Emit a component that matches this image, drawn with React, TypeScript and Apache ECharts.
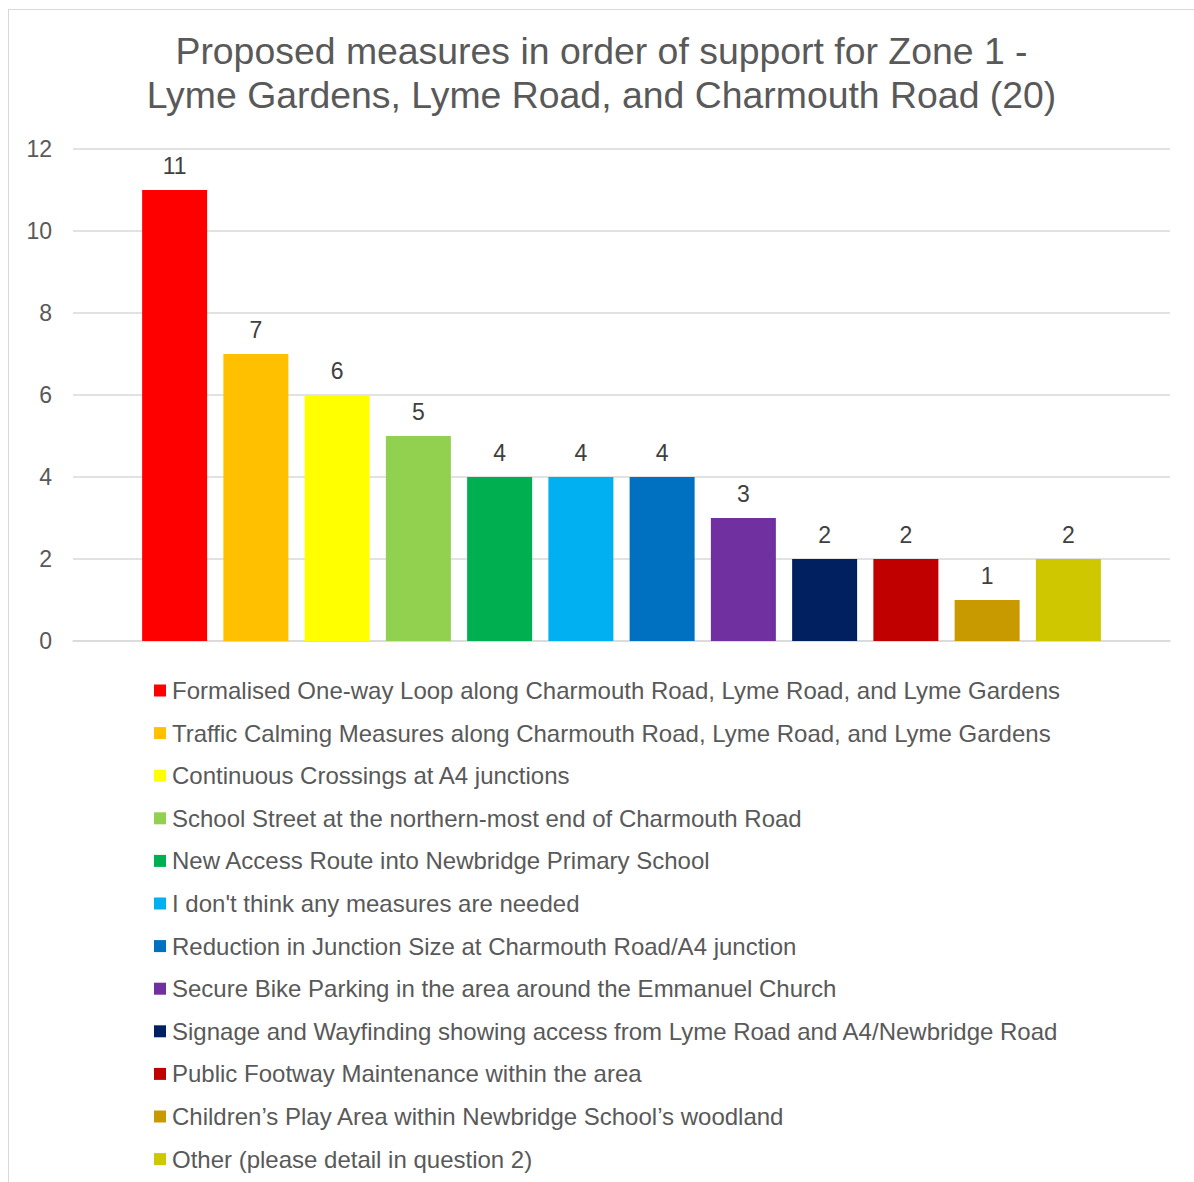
import React, { useEffect, useRef } from "react";
import * as echarts from "echarts";

const titleLines = [
  "Proposed measures in order of support for Zone 1 -",
  "Lyme Gardens, Lyme Road, and Charmouth Road (20)",
];

const measures = [
  "Formalised One-way Loop along Charmouth Road, Lyme Road, and Lyme Gardens",
  "Traffic Calming Measures along Charmouth Road, Lyme Road, and Lyme Gardens",
  "Continuous Crossings at A4 junctions",
  "School Street at the northern-most end of Charmouth Road",
  "New Access Route into Newbridge Primary School",
  "I don't think any measures are needed",
  "Reduction in Junction Size at Charmouth Road/A4 junction",
  "Secure Bike Parking in the area around the Emmanuel Church",
  "Signage and Wayfinding showing access from Lyme Road and A4/Newbridge Road",
  "Public Footway Maintenance within the area",
  "Children\u2019s Play Area within Newbridge School\u2019s woodland",
  "Other (please detail in question 2)",
];

const votes = [11, 7, 6, 5, 4, 4, 4, 3, 2, 2, 1, 2];

const colors = [
  "#FF0000",
  "#FFC000",
  "#FFFF00",
  "#92D050",
  "#00B050",
  "#00B0F0",
  "#0070C0",
  "#7030A0",
  "#002060",
  "#C00000",
  "#C99900",
  "#CFC700",
];

const yTicks = { min: 0, max: 12, interval: 2 };

const FONT = "'Liberation Sans', Arial, sans-serif";

export default function App() {
  const ref = useRef<HTMLDivElement>(null);

  useEffect(() => {
    document.body.style.overflow = "hidden";
    const chart = echarts.init(ref.current!, undefined, { renderer: "svg" });
    chart.setOption({
      animation: false,
      textStyle: { fontFamily: FONT },
      title: {
        text: titleLines.join("\n"),
        left: "center",
        top: 14,
        textStyle: {
          fontFamily: FONT,
          fontSize: 37.4,
          fontWeight: "normal",
          color: "#595959",
          lineHeight: 44,
        },
      },
      legend: {
        orient: "vertical",
        left: 140,
        top: 662,
        height: 560,
        itemWidth: 12,
        itemHeight: 12,
        itemGap: 15.6,
        icon: "rect",
        textStyle: {
          fontFamily: FONT,
          fontSize: 24,
          color: "#595959",
          lineHeight: 27,
          padding: [0, 0, 0, 1],
        },
        data: measures,
      },
      grid: { left: 64, right: 24, top: 139, bottom: 541 },
      xAxis: {
        type: "category",
        data: [""],
        axisLine: { show: true, lineStyle: { color: "#D9D9D9", width: 1.5 } },
        axisTick: { show: false },
        axisLabel: { show: false },
      },
      yAxis: {
        type: "value",
        min: yTicks.min,
        max: yTicks.max,
        interval: yTicks.interval,
        axisLine: { show: false },
        axisTick: { show: false },
        splitLine: { lineStyle: { color: "#D9D9D9", width: 1.5 } },
        axisLabel: {
          fontFamily: FONT,
          fontSize: 23,
          color: "#595959",
          margin: 21,
        },
      },
      series: measures.map((name, i) => ({
        name,
        type: "bar",
        data: [votes[i]],
        barWidth: 65,
        barGap: "25%",
        itemStyle: { color: colors[i] },
        label: {
          show: true,
          position: "top",
          distance: 13,
          fontFamily: FONT,
          fontSize: 23,
          color: "#404040",
        },
      })),
    });
    return () => chart.dispose();
  }, []);

  return (
    <div
      ref={ref}
      style={{
        position: "absolute",
        left: 8,
        top: 9,
        width: 1186,
        height: 1173,
        borderLeft: "1.5px solid #D9D9D9",
        borderTop: "1.5px solid #D9D9D9",
        boxSizing: "border-box",
        background: "#fff",
      }}
    />
  );
}
